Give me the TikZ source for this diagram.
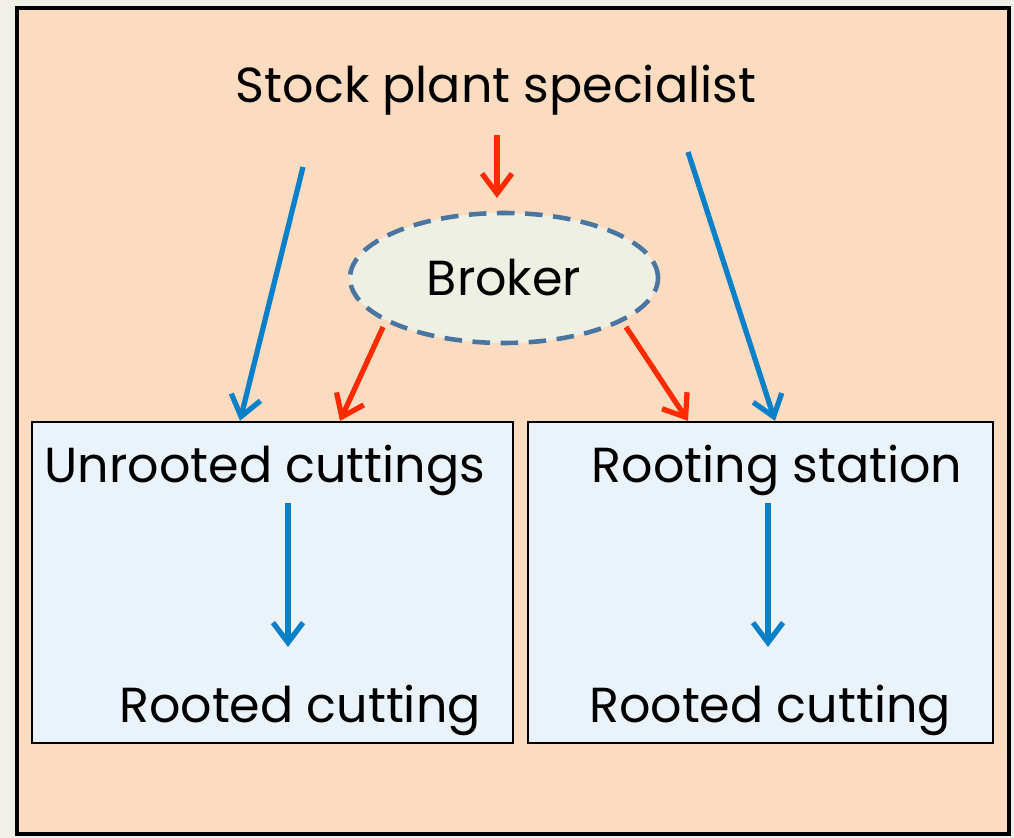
\documentclass[tikz,border=0pt]{standalone}
\usepackage{fontspec}
\setmainfont{Poppins}
\usepackage{xcolor}
\usepackage{tikz}
\usetikzlibrary{shapes.geometric, arrows.meta, positioning, calc}
\definecolor{pageback}{HTML}{F0F0E8}
\definecolor{peach}{HTML}{FCDCC0}
\definecolor{brokerfill}{HTML}{EEF0E4}
\definecolor{brokerline}{HTML}{4A75A0}
\definecolor{boxfill}{HTML}{EAF3FA}
\definecolor{redarrow}{HTML}{FF2A00}
\definecolor{bluearrow}{HTML}{0A80C8}

\begin{document}
\begin{tikzpicture}[
  x=0.02cm, y=-0.02cm,
  label/.style={inner sep=0pt, font=\fontsize{28}{30}\selectfont},
  stage/.style={rectangle, draw=black, line width=1.3pt, fill=boxfill, inner sep=0pt},
  broker/.style={ellipse, draw=brokerline, fill=brokerfill, line width=2.6pt, dash pattern=on 10pt off 6pt, minimum width=308*0.02cm, minimum height=130*0.02cm, inner sep=0pt, font=\fontsize{28}{30}\selectfont},
  redflow/.style={-{Straight Barb[length=4mm, width=6mm]}, line width=3pt, color=redarrow},
  blueflow/.style={-{Straight Barb[length=4mm, width=6mm]}, line width=3pt, color=bluearrow},
]

  % page and panel
  \fill[pageback] (0,0) rectangle (1014,838);
  \useasboundingbox (0,0) rectangle (1014,838);
  \draw[fill=peach, line width=2.8pt] (17,8) rectangle (1009,834);

  % the two stages
  \node[stage, minimum width=481*0.02cm, minimum height=321*0.02cm] (unrootedbox) at (272.5,582.5) {};
  \node[stage, minimum width=465*0.02cm, minimum height=321*0.02cm] (rootingbox) at (760.5,582.5) {};

  \node[label] (stock) at (496,90) {Stock plant specialist};
  \node[broker] (broker) at (504,278) {Broker};

  \node[label] (unrooted) at (265,470) {Unrooted cuttings};
  \node[label] (rooting) at (777,470) {Rooting station};
  \node[label] (rootedleft) at (300,710) {Rooted cutting};
  \node[label] (rootedright) at (770,710) {Rooted cutting};

  % free ends of the arrows
  \coordinate (redtop) at (497,135);
  \coordinate (redend) at (497,198);
  \coordinate (bluelefttop) at (303,167);
  \coordinate (bluerighttop) at (688,152);
  \coordinate (brokerleft) at (383,327);
  \coordinate (brokerright) at (626,327);
  \coordinate (leftdown) at (288,503);
  \coordinate (leftend) at (288,647);
  \coordinate (rightdown) at (768,503);
  \coordinate (rightend) at (768,647);

  \draw[redflow] (redtop) -- (redend);
  \draw[redflow] (brokerleft) -- (unrootedbox.north -| 340,0);
  \draw[redflow] (brokerright) -- (rootingbox.north -| 688,0);

  \draw[blueflow] (bluelefttop) -- (unrootedbox.north -| 240,0);
  \draw[blueflow] (bluerighttop) -- (rootingbox.north -| 775,0);

  \draw[blueflow] (leftdown) -- (leftend);
  \draw[blueflow] (rightdown) -- (rightend);

\end{tikzpicture}
\end{document}
